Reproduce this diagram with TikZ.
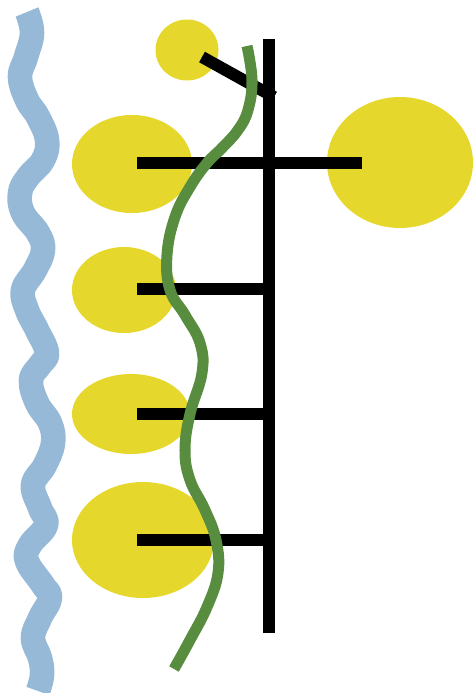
\documentclass[tikz,border=0pt]{standalone}
\usepackage{tikz}
\definecolor{beadyellow}{RGB}{230,215,45}
\definecolor{wallblue}{RGB}{150,185,215}
\definecolor{chaingreen}{RGB}{88,140,62}

\begin{document}
\begin{tikzpicture}[x=0.03cm, y=-0.03cm, bar/.style={line width=10.2pt}]
	\useasboundingbox (0,0) rectangle (473,693);
	% wavy band on the left
	\draw[wallblue, line width=21pt, line join=round] plot[smooth, tension=0.7] coordinates {(27,12) (32,33) (26,57) (20,77) (27,100) (38,117) (47,140) (43,160) (28,177) (20,193) (23,213) (38,233) (43,250) (35,270) (23,290) (27,310) (37,330) (47,353) (40,365) (31,380) (37,403) (50,423) (53,443) (45,465) (33,485) (40,508) (46,525) (30,545) (27,561) (43,585) (50,598) (40,618) (33,638) (40,658) (42,675) (38,691)};
	% beads
	\fill[beadyellow] (187,50) ellipse (31.5 and 30.5);
	\fill[beadyellow] (132,164) ellipse (60 and 49);
	\fill[beadyellow] (400,162.5) ellipse (73 and 65.5);
	\fill[beadyellow] (124,290) ellipse (52 and 43);
	\fill[beadyellow] (131,414) ellipse (59 and 40);
	\fill[beadyellow] (143,540) ellipse (71 and 58);
	% backbone and side arms
	\draw[bar] (269,39) -- (269,633);
	\draw[bar] (202,57) -- (274,97);
	\draw[bar] (137,163) -- (362,163);
	\foreach \y in {289,414,540}
		\draw[bar] (137,\y) -- (269,\y);
	% green strand
	\draw[chaingreen, line width=9.4pt, line join=round] plot[smooth, tension=0.7] coordinates {(247,46) (252,80) (248,110) (238,130) (222,148) (207,163) (190,187) (175,217) (167,255) (170,290) (185,315) (200,343) (202,373) (190,414) (185,450) (190,480) (205,510) (216,540) (218,573) (207,607) (190,640) (174,669)};
\end{tikzpicture}
\end{document}
